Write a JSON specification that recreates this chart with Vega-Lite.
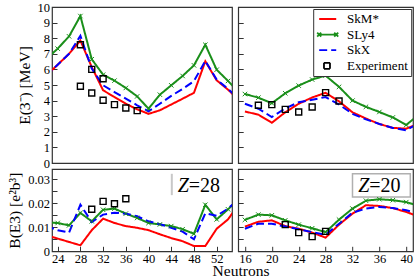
{
  "$schema": "https://vega.github.io/schema/vega-lite/v6.json",
  "padding": {"left": 7, "top": 0, "right": 2, "bottom": 0},
  "bounds": "flush",
  "columns": 2,
  "spacing": {"row": 6, "column": 6.2},
  "resolve": {
    "scale": {"color": "independent", "shape": "independent", "strokeDash": "independent"},
    "legend": {"color": "independent", "shape": "independent", "strokeDash": "independent"}
  },
  "config": {
    "font": "Liberation Serif",
    "view": {"stroke": "#333", "strokeWidth": 1.2},
    "axis": {
      "domain": false, "grid": false,
      "labelFont": "Liberation Serif", "labelFontSize": 12.5, "labelColor": "#000",
      "titleFont": "Liberation Serif", "titleFontSize": 15.5, "titleFontWeight": "normal", "titleColor": "#000",
      "tickColor": "#333", "tickSize": -5, "tickWidth": 1, "labelPadding": 7.5, "labelFlush": false
    },
    "axisX": {"labelPadding": 6.5}
  },
  "datasets": {
    "z28e": [
      {"N": 22, "series": "SkM*", "value": 5.6}, {"N": 24, "series": "SkM*", "value": 6.3}, {"N": 26, "series": "SkM*", "value": 7.0}, {"N": 28, "series": "SkM*", "value": 7.85}, {"N": 30, "series": "SkM*", "value": 6.15}, {"N": 32, "series": "SkM*", "value": 4.66}, {"N": 34, "series": "SkM*", "value": 4.23}, {"N": 36, "series": "SkM*", "value": 3.8}, {"N": 38, "series": "SkM*", "value": 3.44}, {"N": 40, "series": "SkM*", "value": 3.15}, {"N": 42, "series": "SkM*", "value": 3.38}, {"N": 44, "series": "SkM*", "value": 3.75}, {"N": 46, "series": "SkM*", "value": 4.12}, {"N": 48, "series": "SkM*", "value": 4.5}, {"N": 50, "series": "SkM*", "value": 6.52}, {"N": 52, "series": "SkM*", "value": 5.3}, {"N": 54, "series": "SkM*", "value": 4.7}, {"N": 56, "series": "SkM*", "value": 4.0},
      {"N": 22, "series": "SLy4", "value": 6.67}, {"N": 24, "series": "SLy4", "value": 7.33}, {"N": 26, "series": "SLy4", "value": 8.12}, {"N": 28, "series": "SLy4", "value": 9.42}, {"N": 30, "series": "SLy4", "value": 6.65}, {"N": 32, "series": "SLy4", "value": 5.66}, {"N": 34, "series": "SLy4", "value": 5.28}, {"N": 36, "series": "SLy4", "value": 4.81}, {"N": 38, "series": "SLy4", "value": 4.27}, {"N": 40, "series": "SLy4", "value": 3.48}, {"N": 42, "series": "SLy4", "value": 4.38}, {"N": 44, "series": "SLy4", "value": 4.98}, {"N": 46, "series": "SLy4", "value": 5.58}, {"N": 48, "series": "SLy4", "value": 6.26}, {"N": 50, "series": "SLy4", "value": 7.58}, {"N": 52, "series": "SLy4", "value": 5.98}, {"N": 54, "series": "SLy4", "value": 5.26}, {"N": 56, "series": "SLy4", "value": 4.5},
      {"N": 22, "series": "SkX", "value": 5.6}, {"N": 24, "series": "SkX", "value": 6.3}, {"N": 26, "series": "SkX", "value": 7.0}, {"N": 28, "series": "SkX", "value": 8.15}, {"N": 30, "series": "SkX", "value": 6.05}, {"N": 32, "series": "SkX", "value": 4.98}, {"N": 34, "series": "SkX", "value": 4.55}, {"N": 36, "series": "SkX", "value": 4.12}, {"N": 38, "series": "SkX", "value": 3.7}, {"N": 40, "series": "SkX", "value": 3.31}, {"N": 42, "series": "SkX", "value": 3.8}, {"N": 44, "series": "SkX", "value": 4.3}, {"N": 46, "series": "SkX", "value": 4.75}, {"N": 48, "series": "SkX", "value": 5.25}, {"N": 50, "series": "SkX", "value": 6.55}, {"N": 52, "series": "SkX", "value": 5.35}, {"N": 54, "series": "SkX", "value": 4.75}, {"N": 56, "series": "SkX", "value": 4.05},
      {"N": 28, "series": "Experiment", "value": 7.58}, {"N": 28, "series": "Experiment", "value": 4.92}, {"N": 30, "series": "Experiment", "value": 6.0}, {"N": 30, "series": "Experiment", "value": 4.49}, {"N": 32, "series": "Experiment", "value": 5.4}, {"N": 32, "series": "Experiment", "value": 4.02}, {"N": 34, "series": "Experiment", "value": 3.74}, {"N": 36, "series": "Experiment", "value": 3.53}, {"N": 38, "series": "Experiment", "value": 3.36}
    ],
    "z28b": [
      {"N": 22, "series": "SkM*", "value": 0.0067}, {"N": 24, "series": "SkM*", "value": 0.0053}, {"N": 26, "series": "SkM*", "value": 0.0039}, {"N": 28, "series": "SkM*", "value": 0.0025}, {"N": 30, "series": "SkM*", "value": 0.0088}, {"N": 32, "series": "SkM*", "value": 0.0136}, {"N": 34, "series": "SkM*", "value": 0.0118}, {"N": 36, "series": "SkM*", "value": 0.0105}, {"N": 38, "series": "SkM*", "value": 0.0098}, {"N": 40, "series": "SkM*", "value": 0.0088}, {"N": 42, "series": "SkM*", "value": 0.0071}, {"N": 44, "series": "SkM*", "value": 0.0055}, {"N": 46, "series": "SkM*", "value": 0.0042}, {"N": 48, "series": "SkM*", "value": 0.0022}, {"N": 50, "series": "SkM*", "value": 0.0022}, {"N": 52, "series": "SkM*", "value": 0.0094}, {"N": 54, "series": "SkM*", "value": 0.0133}, {"N": 56, "series": "SkM*", "value": 0.02},
      {"N": 22, "series": "SLy4", "value": 0.012}, {"N": 24, "series": "SLy4", "value": 0.0118}, {"N": 26, "series": "SLy4", "value": 0.0108}, {"N": 28, "series": "SLy4", "value": 0.016}, {"N": 30, "series": "SLy4", "value": 0.0125}, {"N": 32, "series": "SLy4", "value": 0.0173}, {"N": 34, "series": "SLy4", "value": 0.0178}, {"N": 36, "series": "SLy4", "value": 0.0157}, {"N": 38, "series": "SLy4", "value": 0.0139}, {"N": 40, "series": "SLy4", "value": 0.0118}, {"N": 42, "series": "SLy4", "value": 0.0112}, {"N": 44, "series": "SLy4", "value": 0.0105}, {"N": 46, "series": "SLy4", "value": 0.0092}, {"N": 48, "series": "SLy4", "value": 0.0073}, {"N": 50, "series": "SLy4", "value": 0.0194}, {"N": 52, "series": "SLy4", "value": 0.0133}, {"N": 54, "series": "SLy4", "value": 0.0175}, {"N": 56, "series": "SLy4", "value": 0.022},
      {"N": 22, "series": "SkX", "value": 0.0105}, {"N": 24, "series": "SkX", "value": 0.0088}, {"N": 26, "series": "SkX", "value": 0.0078}, {"N": 28, "series": "SkX", "value": 0.0194}, {"N": 30, "series": "SkX", "value": 0.0122}, {"N": 32, "series": "SkX", "value": 0.0153}, {"N": 34, "series": "SkX", "value": 0.0161}, {"N": 36, "series": "SkX", "value": 0.0157}, {"N": 38, "series": "SkX", "value": 0.0146}, {"N": 40, "series": "SkX", "value": 0.0125}, {"N": 42, "series": "SkX", "value": 0.0113}, {"N": 44, "series": "SkX", "value": 0.0098}, {"N": 46, "series": "SkX", "value": 0.0082}, {"N": 48, "series": "SkX", "value": 0.005}, {"N": 50, "series": "SkX", "value": 0.0158}, {"N": 52, "series": "SkX", "value": 0.0148}, {"N": 54, "series": "SkX", "value": 0.0178}, {"N": 56, "series": "SkX", "value": 0.022},
      {"N": 30, "series": "Experiment", "value": 0.0175}, {"N": 32, "series": "Experiment", "value": 0.0208}, {"N": 34, "series": "Experiment", "value": 0.0198}, {"N": 36, "series": "Experiment", "value": 0.0219}
    ],
    "z20e": [
      {"N": 16, "series": "SkM*", "value": 3.3}, {"N": 18, "series": "SkM*", "value": 3.1}, {"N": 20, "series": "SkM*", "value": 2.58}, {"N": 22, "series": "SkM*", "value": 3.25}, {"N": 24, "series": "SkM*", "value": 3.8}, {"N": 26, "series": "SkM*", "value": 4.2}, {"N": 28, "series": "SkM*", "value": 4.5}, {"N": 30, "series": "SkM*", "value": 3.95}, {"N": 32, "series": "SkM*", "value": 3.25}, {"N": 34, "series": "SkM*", "value": 2.85}, {"N": 36, "series": "SkM*", "value": 2.5}, {"N": 38, "series": "SkM*", "value": 2.25}, {"N": 40, "series": "SkM*", "value": 2.2}, {"N": 42, "series": "SkM*", "value": 2.55},
      {"N": 16, "series": "SLy4", "value": 4.42}, {"N": 18, "series": "SLy4", "value": 4.19}, {"N": 20, "series": "SLy4", "value": 3.83}, {"N": 22, "series": "SLy4", "value": 4.47}, {"N": 24, "series": "SLy4", "value": 4.96}, {"N": 26, "series": "SLy4", "value": 5.35}, {"N": 28, "series": "SLy4", "value": 5.6}, {"N": 30, "series": "SLy4", "value": 4.88}, {"N": 32, "series": "SLy4", "value": 4.0}, {"N": 34, "series": "SLy4", "value": 3.6}, {"N": 36, "series": "SLy4", "value": 3.27}, {"N": 38, "series": "SLy4", "value": 2.92}, {"N": 40, "series": "SLy4", "value": 2.44}, {"N": 42, "series": "SLy4", "value": 3.15},
      {"N": 16, "series": "SkX", "value": 3.8}, {"N": 18, "series": "SkX", "value": 3.48}, {"N": 20, "series": "SkX", "value": 2.95}, {"N": 22, "series": "SkX", "value": 3.5}, {"N": 24, "series": "SkX", "value": 3.9}, {"N": 26, "series": "SkX", "value": 4.05}, {"N": 28, "series": "SkX", "value": 4.23}, {"N": 30, "series": "SkX", "value": 3.75}, {"N": 32, "series": "SkX", "value": 3.15}, {"N": 34, "series": "SkX", "value": 2.8}, {"N": 36, "series": "SkX", "value": 2.5}, {"N": 38, "series": "SkX", "value": 2.25}, {"N": 40, "series": "SkX", "value": 2.1}, {"N": 42, "series": "SkX", "value": 2.6},
      {"N": 18, "series": "Experiment", "value": 3.7}, {"N": 20, "series": "Experiment", "value": 3.74}, {"N": 22, "series": "Experiment", "value": 3.44}, {"N": 24, "series": "Experiment", "value": 3.27}, {"N": 26, "series": "Experiment", "value": 3.59}, {"N": 28, "series": "Experiment", "value": 4.51}, {"N": 30, "series": "Experiment", "value": 3.97}
    ],
    "z20b": [
      {"N": 16, "series": "SkM*", "value": 0.0103}, {"N": 18, "series": "SkM*", "value": 0.0123}, {"N": 20, "series": "SkM*", "value": 0.0129}, {"N": 22, "series": "SkM*", "value": 0.0105}, {"N": 24, "series": "SkM*", "value": 0.0094}, {"N": 26, "series": "SkM*", "value": 0.0078}, {"N": 28, "series": "SkM*", "value": 0.0057}, {"N": 30, "series": "SkM*", "value": 0.0111}, {"N": 32, "series": "SkM*", "value": 0.0157}, {"N": 34, "series": "SkM*", "value": 0.0192}, {"N": 36, "series": "SkM*", "value": 0.0189}, {"N": 38, "series": "SkM*", "value": 0.018}, {"N": 40, "series": "SkM*", "value": 0.0164}, {"N": 42, "series": "SkM*", "value": 0.0143},
      {"N": 16, "series": "SLy4", "value": 0.0131}, {"N": 18, "series": "SLy4", "value": 0.0153}, {"N": 20, "series": "SLy4", "value": 0.015}, {"N": 22, "series": "SLy4", "value": 0.0129}, {"N": 24, "series": "SLy4", "value": 0.0111}, {"N": 26, "series": "SLy4", "value": 0.0096}, {"N": 28, "series": "SLy4", "value": 0.008}, {"N": 30, "series": "SLy4", "value": 0.0132}, {"N": 32, "series": "SLy4", "value": 0.0178}, {"N": 34, "series": "SLy4", "value": 0.0211}, {"N": 36, "series": "SLy4", "value": 0.0217}, {"N": 38, "series": "SLy4", "value": 0.0213}, {"N": 40, "series": "SLy4", "value": 0.0205}, {"N": 42, "series": "SLy4", "value": 0.0188},
      {"N": 16, "series": "SkX", "value": 0.0094}, {"N": 18, "series": "SkX", "value": 0.0115}, {"N": 20, "series": "SkX", "value": 0.0115}, {"N": 22, "series": "SkX", "value": 0.0103}, {"N": 24, "series": "SkX", "value": 0.0092}, {"N": 26, "series": "SkX", "value": 0.008}, {"N": 28, "series": "SkX", "value": 0.0069}, {"N": 30, "series": "SkX", "value": 0.0115}, {"N": 32, "series": "SkX", "value": 0.0161}, {"N": 34, "series": "SkX", "value": 0.0178}, {"N": 36, "series": "SkX", "value": 0.0185}, {"N": 38, "series": "SkX", "value": 0.018}, {"N": 40, "series": "SkX", "value": 0.0171}, {"N": 42, "series": "SkX", "value": 0.0157},
      {"N": 22, "series": "Experiment", "value": 0.0111}, {"N": 24, "series": "Experiment", "value": 0.0078}, {"N": 26, "series": "Experiment", "value": 0.0061}, {"N": 28, "series": "Experiment", "value": 0.0083}
    ]
  },
  "concat": [
    {
      "width": 180, "height": 156,
      "data": {"name": "z28e"},
      "encoding": {
        "x": {"field": "N", "type": "quantitative", "scale": {"domain": [23, 54.7], "nice": false, "zero": false}, "axis": null},
        "y": {"field": "value", "type": "quantitative", "scale": {"domain": [0, 10], "nice": false}, "axis": {"title": "E(3⁻) [MeV]", "values": [0, 1, 2, 3, 4, 5, 6, 7, 8, 9, 10], "titlePadding": 5}}
      },
      "layer": [
        {"transform": [{"filter": "datum.series != 'Experiment'"}], "mark": {"type": "line", "clip": true, "strokeWidth": 2},
         "encoding": {
           "color": {"field": "series", "type": "nominal", "scale": {"domain": ["SkM*", "SLy4", "SkX", "Experiment"], "range": ["#ff0000", "#1a8f1a", "#0000ff", "#000000"]}, "legend": null},
           "strokeDash": {"field": "series", "type": "nominal", "scale": {"domain": ["SkM*", "SLy4", "SkX", "Experiment"], "range": [[1, 0], [1, 0], [8, 4], [1, 0]]}, "legend": null}}},
        {"transform": [{"filter": "datum.series == 'SLy4'"}], "mark": {"type": "point", "shape": "M-1,-1L1,1M-1,1L1,-1", "size": 20, "strokeWidth": 1, "color": "#1a8f1a", "opacity": 1, "clip": true}},
        {"transform": [{"filter": "datum.series == 'Experiment'"}], "mark": {"type": "point", "shape": "square", "size": 36, "strokeWidth": 1.4, "color": "#000000", "filled": false, "opacity": 1}}
      ]
    },
    {
      "width": 174.8, "height": 156,
      "data": {"name": "z20e"},
      "encoding": {
        "x": {"field": "N", "type": "quantitative", "scale": {"domain": [15, 41], "nice": false, "zero": false}, "axis": null},
        "y": {"field": "value", "type": "quantitative", "scale": {"domain": [0, 10], "nice": false}, "axis": {"title": null, "labels": false, "values": [0, 1, 2, 3, 4, 5, 6, 7, 8, 9, 10]}}
      },
      "layer": [
        {"data": {"values": [{"series": "SkM*", "N": 30, "value": 5}, {"series": "SLy4", "N": 30, "value": 5}, {"series": "SkX", "N": 30, "value": 5}, {"series": "Experiment", "N": 30, "value": 5}]},
         "mark": {"type": "point", "opacity": 0, "filled": false},
         "encoding": {
           "color": {"field": "series", "type": "nominal", "scale": {"domain": ["SkM*", "SLy4", "SkX", "Experiment"], "range": ["#ff0000", "#1a8f1a", "#0000ff", "#000000"]},
             "legend": {"title": null, "orient": "top-right", "offset": 2, "padding": 3, "rowPadding": 1.6, "symbolSize": 144, "symbolStrokeWidth": 1.8, "symbolOpacity": 1, "labelFont": "Liberation Serif", "labelFontSize": 13, "labelColor": "#000", "labelOffset": 16.9, "strokeColor": "#333", "fillColor": "#ffffff", "labelLimit": 200,
               "encode": {"legend": {"update": {"stroke": {"value": "#333333"}, "strokeWidth": {"value": 1.2}}}}}},
           "shape": {"field": "series", "type": "nominal", "scale": {"domain": ["SkM*", "SLy4", "SkX", "Experiment"], "range": ["M-0.67,0H2.17", "M-0.67,0H2.17M-1,-0.33L-0.34,0.33M-1,0.33L-0.34,-0.33M1.84,-0.33L2.5,0.33M1.84,0.33L2.5,-0.33", "M-0.67,0H0.67M1.33,0H2.17", "M0.13,-0.5H1.13V0.5H0.13Z"]},
             "legend": {"title": null, "orient": "top-right", "offset": 2, "padding": 3, "rowPadding": 1.6, "symbolSize": 144, "symbolStrokeWidth": 1.8, "symbolOpacity": 1, "labelFont": "Liberation Serif", "labelFontSize": 13, "labelColor": "#000", "labelOffset": 16.9, "strokeColor": "#333", "fillColor": "#ffffff", "labelLimit": 200,
               "encode": {"legend": {"update": {"stroke": {"value": "#333333"}, "strokeWidth": {"value": 1.2}}}}}}
         }},
        {"transform": [{"filter": "datum.series != 'Experiment'"}], "mark": {"type": "line", "clip": true, "strokeWidth": 2},
         "encoding": {
           "color": {"field": "series", "type": "nominal", "scale": {"domain": ["SkM*", "SLy4", "SkX", "Experiment"], "range": ["#ff0000", "#1a8f1a", "#0000ff", "#000000"]}, "legend": null},
           "strokeDash": {"field": "series", "type": "nominal", "scale": {"domain": ["SkM*", "SLy4", "SkX", "Experiment"], "range": [[1, 0], [1, 0], [8, 4], [1, 0]]}, "legend": null}}},
        {"transform": [{"filter": "datum.series == 'SLy4'"}], "mark": {"type": "point", "shape": "M-1,-1L1,1M-1,1L1,-1", "size": 20, "strokeWidth": 1, "color": "#1a8f1a", "opacity": 1, "clip": true}},
        {"transform": [{"filter": "datum.series == 'Experiment'"}], "mark": {"type": "point", "shape": "square", "size": 36, "strokeWidth": 1.4, "color": "#000000", "filled": false, "opacity": 1}}
      ]
    },
    {
      "width": 180, "height": 82.3,
      "data": {"name": "z28b"},
      "encoding": {
        "x": {"field": "N", "type": "quantitative", "scale": {"domain": [23, 54.7], "nice": false, "zero": false}, "axis": {"values": [24, 28, 32, 36, 40, 44, 48, 52], "title": "Neutrons", "titleX": 188.5, "titleY": 24.5, "titleBaseline": "alphabetic", "titleAlign": "center"}},
        "y": {"field": "value", "type": "quantitative", "scale": {"domain": [0, 0.0343], "nice": false}, "axis": {"title": "B(E3) [e²b³]", "values": [0, 0.005, 0.01, 0.015, 0.02, 0.025, 0.03], "labelExpr": "datum.value == 0 ? '0' : (round(datum.value * 1000) % 10 == 0 ? format(datum.value, '.2f') : '')", "titlePadding": 5}}
      },
      "layer": [
        {"transform": [{"filter": "datum.series != 'Experiment'"}], "mark": {"type": "line", "clip": true, "strokeWidth": 2},
         "encoding": {
           "color": {"field": "series", "type": "nominal", "scale": {"domain": ["SkM*", "SLy4", "SkX", "Experiment"], "range": ["#ff0000", "#1a8f1a", "#0000ff", "#000000"]}, "legend": null},
           "strokeDash": {"field": "series", "type": "nominal", "scale": {"domain": ["SkM*", "SLy4", "SkX", "Experiment"], "range": [[1, 0], [1, 0], [8, 4], [1, 0]]}, "legend": null}}},
        {"transform": [{"filter": "datum.series == 'SLy4'"}], "mark": {"type": "point", "shape": "M-1,-1L1,1M-1,1L1,-1", "size": 20, "strokeWidth": 1, "color": "#1a8f1a", "opacity": 1, "clip": true}},
        {"transform": [{"filter": "datum.series == 'Experiment'"}], "mark": {"type": "point", "shape": "square", "size": 36, "strokeWidth": 1.4, "color": "#000000", "filled": false, "opacity": 1}},
        {"data": {"values": [{"N": 44.1, "value": 0.0234, "top": 0.0323}]}, "mark": {"type": "rule", "color": "#c8c8c8", "strokeWidth": 2}, "encoding": {"y2": {"field": "top"}}},
        {"data": {"values": [{"N": 47.1, "value": 0.0272, "label": "Z"}]}, "mark": {"type": "text", "font": "Liberation Serif", "fontStyle": "italic", "fontSize": 20, "align": "right", "baseline": "middle", "color": "#000"}, "encoding": {"text": {"field": "label"}}},
        {"data": {"values": [{"N": 47.1, "value": 0.0272, "label": "=28"}]}, "mark": {"type": "text", "font": "Liberation Serif", "fontSize": 20, "align": "left", "baseline": "middle", "color": "#000"}, "encoding": {"text": {"field": "label"}}}
      ]
    },
    {
      "width": 174.8, "height": 82.3,
      "data": {"name": "z20b"},
      "encoding": {
        "x": {"field": "N", "type": "quantitative", "scale": {"domain": [15, 41], "nice": false, "zero": false}, "axis": {"values": [16, 20, 24, 28, 32, 36, 40], "title": null}},
        "y": {"field": "value", "type": "quantitative", "scale": {"domain": [0, 0.0343], "nice": false}, "axis": {"title": null, "labels": false, "values": [0, 0.005, 0.01, 0.015, 0.02, 0.025, 0.03]}}
      },
      "layer": [
        {"data": {"values": [{"N": 32.0, "right": 40.6, "value": 0.0226, "top": 0.0323}]}, "mark": {"type": "rect", "fill": "#ffffff", "stroke": "#b0b0b0", "strokeWidth": 1.5}, "encoding": {"x2": {"field": "right"}, "y2": {"field": "top"}}},
        {"transform": [{"filter": "datum.series != 'Experiment'"}], "mark": {"type": "line", "clip": true, "strokeWidth": 2},
         "encoding": {
           "color": {"field": "series", "type": "nominal", "scale": {"domain": ["SkM*", "SLy4", "SkX", "Experiment"], "range": ["#ff0000", "#1a8f1a", "#0000ff", "#000000"]}, "legend": null},
           "strokeDash": {"field": "series", "type": "nominal", "scale": {"domain": ["SkM*", "SLy4", "SkX", "Experiment"], "range": [[1, 0], [1, 0], [8, 4], [1, 0]]}, "legend": null}}},
        {"transform": [{"filter": "datum.series == 'SLy4'"}], "mark": {"type": "point", "shape": "M-1,-1L1,1M-1,1L1,-1", "size": 20, "strokeWidth": 1, "color": "#1a8f1a", "opacity": 1, "clip": true}},
        {"transform": [{"filter": "datum.series == 'Experiment'"}], "mark": {"type": "point", "shape": "square", "size": 36, "strokeWidth": 1.4, "color": "#000000", "filled": false, "opacity": 1}},
        {"data": {"values": [{"N": 34.5, "value": 0.0272, "label": "Z"}]}, "mark": {"type": "text", "font": "Liberation Serif", "fontStyle": "italic", "fontSize": 20, "align": "right", "baseline": "middle", "color": "#000"}, "encoding": {"text": {"field": "label"}}},
        {"data": {"values": [{"N": 34.5, "value": 0.0272, "label": "=20"}]}, "mark": {"type": "text", "font": "Liberation Serif", "fontSize": 20, "align": "left", "baseline": "middle", "color": "#000"}, "encoding": {"text": {"field": "label"}}}
      ]
    }
  ]
}
